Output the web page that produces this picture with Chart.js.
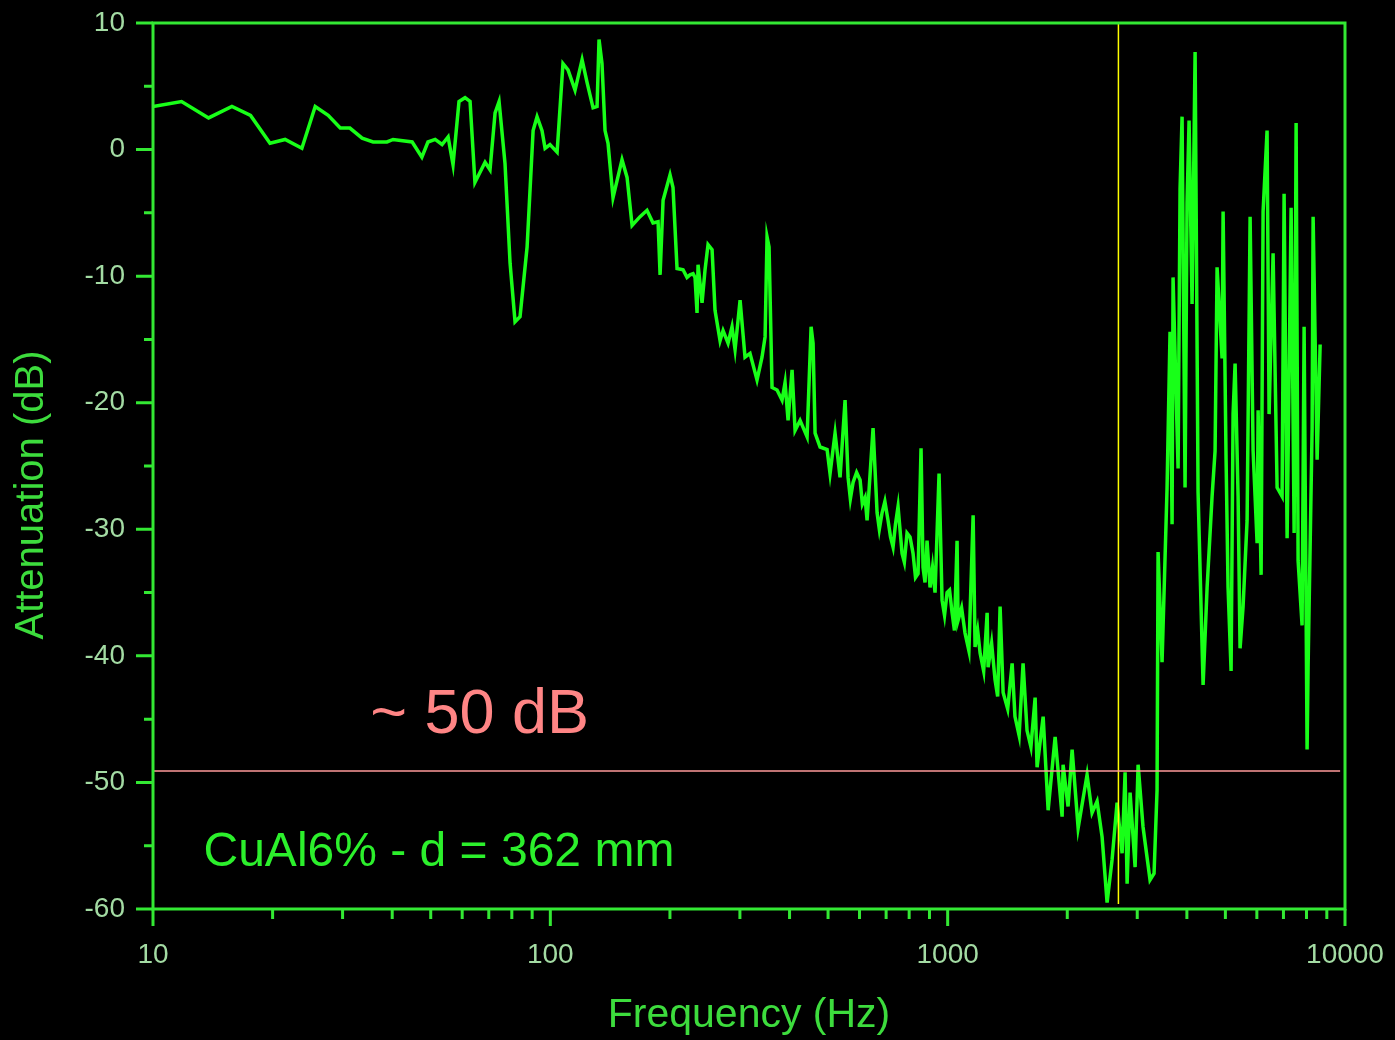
<!DOCTYPE html>
<html lang="en">
<head>
<meta charset="UTF-8">
<title>CuAl6% - Attenuation vs Frequency</title>
<style>
    html, body { margin: 0; padding: 0; background: #000; }
    #wrap { width: 1395px; height: 1040px; }
</style>
</head>
<body>
<div id="wrap"><canvas id="chart" width="1395" height="1040"></canvas></div>

<script src="https://cdn.jsdelivr.net/npm/chart.js@4.4.1/dist/chart.umd.min.js"></script>
<script>
    const freqHz = [
        10, 11.8, 13.8, 15.8, 17.6, 19.7, 21.5, 23.7, 25.6, 27.6,
        29.6, 31.3, 33.6, 35.8, 38.8, 40.2, 44.9, 47.5, 49.2, 51.3,
        53.4, 55.3, 56.9, 58.9, 61.0, 62.8, 64.6, 68.5, 70.5, 72.6,
        74.3, 76.9, 79.2, 81.5, 83.9, 87.4, 90.5, 92.6, 95.3, 97.0,
        99.8, 104, 107.6, 110.8, 115.4, 120.2, 123.7, 128.1, 131.1, 132.6,
        134.9, 137.3, 139.7, 143.8, 151.5, 156, 160.6, 168.2, 175.1, 181.3,
        186.7, 188.9, 192.2, 200.1, 203.6, 208.4, 215.8, 220.8, 224.7, 228.7,
        231.3, 234, 235.4, 240.9, 245.1, 249.4, 255.3, 259.7, 267.4, 272.1,
        280.1, 286.6, 291.7, 300.3, 309, 318.1, 331.3, 341, 347.1, 351.1,
        355.2, 361.4, 372.1, 383, 389.7, 396.6, 405.9, 413, 425.2, 442.8,
        453.2, 458.4, 463.8, 477.4, 497.2, 505.8, 520.7, 536, 551.8, 561.5,
        569, 578, 590, 602, 610, 619.6, 626.9, 649, 664.3, 673,
        683.8, 695, 707.9, 718, 728.7, 739, 750.1, 767.7, 778, 790.2,
        804, 818.2, 830, 842.3, 857, 867, 877, 887.4, 903, 916,
        929.5, 951.3, 968, 982, 996.5, 1011, 1026, 1040, 1056, 1062,
        1084, 1106, 1131, 1159, 1172, 1190, 1207, 1232, 1257, 1264,
        1290, 1316, 1336, 1355, 1379, 1416, 1453, 1477, 1513, 1548,
        1584, 1620, 1660, 1679, 1739, 1790, 1864, 1941, 1952, 2009,
        2057, 2130, 2243, 2309, 2377, 2447, 2519, 2593, 2669, 2748,
        2796, 2829, 2878, 2963, 3015, 3102, 3231, 3307, 3365, 3385,
        3464, 3566, 3628, 3671, 3692, 3801, 3845, 3890, 3958, 4004,
        4051, 4122, 4195, 4268, 4394, 4497, 4629, 4710, 4765, 4905,
        4934, 5020, 5078, 5168, 5228, 5289, 5382, 5444, 5540, 5670,
        5770, 5871, 6009, 6044, 6150, 6221, 6366, 6441, 6592, 6747,
        6945, 7026, 7150, 7318, 7447, 7533, 7621, 7798, 7890, 8028,
        8075, 8265, 8313, 8508, 8658
    ];
    const attenDb = [
        3.4, 3.8, 2.5, 3.4, 2.7, 0.5, 0.8, 0.1, 3.4, 2.7,
        1.7, 1.7, 0.9, 0.6, 0.6, 0.8, 0.6, -0.6, 0.6, 0.8,
        0.4, 1.0, -1.2, 3.8, 4.1, 3.8, -2.6, -1.0, -1.6, 2.9,
        3.8, -1.1, -9.0, -13.6, -13.2, -7.7, 1.5, 2.6, 1.5, 0.1,
        0.4, -0.2, 6.8, 6.3, 4.7, 7.1, 5.3, 3.3, 3.4, 8.7,
        6.8, 1.5, 0.5, -3.8, -0.8, -2.2, -6.0, -5.3, -4.8, -5.8,
        -5.7, -9.9, -4.0, -2.0, -3.0, -9.4, -9.5, -10.1, -9.9, -9.8,
        -10.1, -12.9, -9.1, -12.1, -9.5, -7.5, -7.9, -12.7, -15.1, -14.3,
        -15.3, -14.0, -15.8, -11.9, -16.4, -16.1, -18.2, -16.4, -14.8, -6.9,
        -7.7, -18.8, -19.0, -19.8, -18.4, -21.4, -17.4, -22.2, -21.4, -22.7,
        -14.0, -15.3, -22.4, -23.5, -23.7, -25.6, -22.4, -25.9, -19.8, -25.9,
        -27.6, -26.3, -25.5, -26.1, -28.0, -27.5, -29.3, -22.0, -28.7, -30.0,
        -28.7, -27.8, -29.3, -30.6, -31.4, -29.6, -28.2, -31.9, -32.6, -30.3,
        -30.6, -31.9, -33.8, -33.5, -23.6, -33.0, -34.2, -30.9, -34.6, -33.0,
        -35.0, -25.6, -35.6, -36.8, -35.0, -34.8, -36.6, -38.0, -30.9, -37.2,
        -36.2, -38.2, -39.6, -28.9, -39.3, -38.0, -39.8, -41.2, -36.6, -40.9,
        -39.0, -41.9, -43.2, -36.1, -42.9, -44.2, -40.6, -44.8, -46.3, -40.6,
        -45.9, -47.2, -43.3, -48.8, -44.8, -52.2, -46.4, -52.7, -48.6, -51.9,
        -47.4, -53.6, -49.4, -52.4, -51.5, -54.3, -59.5, -56.1, -51.6, -55.6,
        -49.2, -58.0, -50.8, -56.7, -48.6, -53.5, -57.7, -57.2, -50.6, -31.8,
        -40.5, -26.7, -14.4, -29.6, -10.1, -25.2, -3.1, 2.6, -26.7, -4.2,
        2.3, -12.2, 7.7, -27.1, -42.3, -34.6, -27.4, -23.8, -9.3, -16.5,
        -4.9, -24.5, -34.6, -41.2, -20.9, -16.9, -27.4, -39.4, -36.1, -29.3,
        -5.3, -23.8, -31.1, -20.6, -33.6, -4.9, 1.5, -20.9, -8.2, -26.7,
        -27.4, -3.5, -30.7, -4.6, -30.3, 2.1, -32.5, -37.6, -14.0, -47.4,
        -40.8, -22.0, -5.3, -24.5, -15.4
    ];

    // reference level and marker frequency
    const refLevelDb = -49.1;
    const refSpanHz = [10, 9720];
    const markerFreqHz = 2690;
    const markerSpanDb = [10, -59.6];

    // axes
    const xMajorTicks = [10, 100, 1000, 10000];
    const xMinorTicks = [20, 30, 40, 50, 60, 70, 80, 90, 200, 300, 400, 500, 600, 700, 800, 900,
                         2000, 3000, 4000, 5000, 6000, 7000, 8000, 9000];
    const yMajorTicks = [-60, -50, -40, -30, -20, -10, 0, 10];
    const yMinorTicks = [-55, -45, -35, -25, -15, -5, 5];

    const FONT = "'Liberation Sans', Arial, sans-serif";
    const AXIS_COLOR = '#33e833';
    const LABEL_COLOR = '#a3dba3';
    const TITLE_COLOR = '#3ddc3d';

    // no label overhang padding, the frame is placed by layout.padding only
    function noOverhang(scale) {
        scale.paddingTop = 0;
        scale.paddingBottom = 0;
        scale.paddingLeft = 0;
        scale.paddingRight = 0;
    }

    // draws the frame, the tick marks, the y title and the two notes
    const framePlugin = {
        id: 'frame',
        afterDraw(chart) {
            const ctx = chart.ctx;
            const xs = chart.scales.x, ys = chart.scales.y;
            const a = chart.chartArea;
            ctx.save();
            ctx.strokeStyle = AXIS_COLOR;
            ctx.lineWidth = 3;
            ctx.lineCap = 'butt';
            ctx.strokeRect(a.left, a.top, a.right - a.left, a.bottom - a.top);

            ctx.beginPath();
            xMajorTicks.forEach(v => {
                const px = xs.getPixelForValue(v);
                ctx.moveTo(px, a.bottom); ctx.lineTo(px, a.bottom + 17);
            });
            xMinorTicks.forEach(v => {
                const px = xs.getPixelForValue(v);
                ctx.moveTo(px, a.bottom); ctx.lineTo(px, a.bottom + 10);
            });
            yMajorTicks.forEach(v => {
                const py = ys.getPixelForValue(v);
                ctx.moveTo(a.left, py); ctx.lineTo(a.left - 17, py);
            });
            yMinorTicks.forEach(v => {
                const py = ys.getPixelForValue(v);
                ctx.moveTo(a.left, py); ctx.lineTo(a.left - 9, py);
            });
            ctx.stroke();

            // y axis title
            ctx.fillStyle = TITLE_COLOR;
            ctx.font = '40px ' + FONT;
            ctx.textAlign = 'center';
            ctx.textBaseline = 'middle';
            ctx.translate(32, 495);
            ctx.rotate(-Math.PI / 2);
            ctx.fillText('Attenuation (dB)', 0, 0);
            ctx.restore();

            // notes inside the plot
            ctx.save();
            ctx.textAlign = 'left';
            ctx.textBaseline = 'alphabetic';
            ctx.fillStyle = '#ff8585';
            ctx.font = '63px ' + FONT;
            ctx.fillText('~ 50 dB', xs.getPixelForValue(35.2), ys.getPixelForValue(-46.1));
            ctx.fillStyle = '#2cf02c';
            ctx.font = '48px ' + FONT;
            ctx.fillText('CuAl6% - d = 362 mm', xs.getPixelForValue(13.4), ys.getPixelForValue(-56.6));
            ctx.restore();
        }
    };

    const ctx = document.getElementById('chart').getContext('2d');
    new Chart(ctx, {
        type: 'line',
        data: {
            datasets: [
                {
                    label: 'reference',
                    data: refSpanHz.map(f => ({ x: f, y: refLevelDb })),
                    borderColor: '#ff9a9a',
                    borderWidth: 1.5,
                    pointRadius: 0,
                    order: 0
                },
                {
                    label: 'marker',
                    data: markerSpanDb.map(d => ({ x: markerFreqHz, y: d })),
                    borderColor: '#ffff00',
                    borderWidth: 1.5,
                    pointRadius: 0,
                    order: 0
                },
                {
                    label: 'CuAl6%',
                    data: freqHz.map((f, i) => ({ x: f, y: attenDb[i] })),
                    borderColor: '#18ff18',
                    borderWidth: 3.5,
                    pointRadius: 0,
                    tension: 0,
                    order: 1
                }
            ]
        },
        options: {
            responsive: false,
            animation: false,
            layout: { padding: { top: 23, right: 50, left: 0, bottom: 0 } },
            plugins: {
                legend: { display: false },
                tooltip: { enabled: false }
            },
            scales: {
                x: {
                    type: 'logarithmic',
                    min: 10,
                    max: 10000,
                    afterFit(scale) { scale.height = 131; noOverhang(scale); },
                    afterBuildTicks(scale) { scale.ticks = xMajorTicks.map(v => ({ value: v })); },
                    grid: { display: false, drawTicks: false },
                    border: { display: false },
                    ticks: {
                        color: LABEL_COLOR,
                        font: { family: FONT, size: 28 },
                        padding: 29,
                        maxRotation: 0,
                        autoSkip: false,
                        callback: v => String(v)
                    },
                    title: {
                        display: true,
                        text: 'Frequency (Hz)',
                        color: TITLE_COLOR,
                        font: { family: FONT, size: 41 },
                        padding: { top: 0, bottom: 0 }
                    }
                },
                y: {
                    min: -60,
                    max: 10,
                    afterFit(scale) { scale.width = 153; noOverhang(scale); },
                    afterBuildTicks(scale) { scale.ticks = yMajorTicks.map(v => ({ value: v })); },
                    grid: { display: false, drawTicks: false },
                    border: { display: false },
                    ticks: {
                        color: LABEL_COLOR,
                        font: { family: FONT, size: 28 },
                        padding: 28,
                        callback: v => String(v)
                    }
                }
            }
        },
        plugins: [framePlugin]
    });
</script>
</body>
</html>
